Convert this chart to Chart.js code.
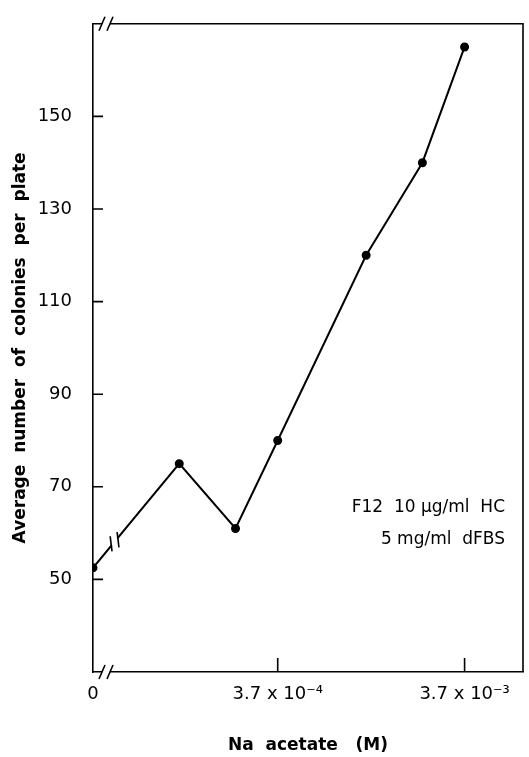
<!DOCTYPE html>
<html>
<head>
<meta charset="utf-8">
<script src="https://cdn.jsdelivr.net/npm/chart.js@4.4.0/dist/chart.umd.min.js"></script>
<style>
  html, body { margin: 0; padding: 0; background: #fff; }
  #wrap { width: 529px; height: 757px; }
</style>
</head>
<body>
<div id="wrap"><canvas id="colonyChart"></canvas></div>
<script>
// Na acetate (M); the 0 control sits left of the axis break
const concentrations = [0, 1.1e-4, 2.2e-4, 3.7e-4, 1.1e-3, 2.2e-3, 3.7e-3];
const colonies = [52.5, 75, 61, 80, 120, 140, 165];
const xTickValues = [0, 3.7e-4, 3.7e-3];
const xTickLabels = ['0', '3.7 x 10⁻⁴', '3.7 x 10⁻³'];
const yTickValues = [50, 70, 90, 110, 130, 150];
const noteLines = ['F12  10 µg/ml  HC', '5 mg/ml  dFBS'];

// position of "0" on the log axis (left end of the broken axis)
const ZERO_POS = 3.8e-5;
const FONT = 'DejaVu Sans';

const ctx = document.getElementById('colonyChart').getContext('2d');

// slash pair "//" used for axis and line breaks
function drawBreak(c, x, y, angle) {
  c.save();
  c.translate(x, y);
  c.rotate(angle);
  c.fillStyle = '#fff';
  c.fillRect(-4, -6, 8, 12);
  c.strokeStyle = '#000';
  c.lineWidth = 1.6;
  [-4, 4].forEach(dx => {
    c.beginPath();
    c.moveTo(dx - 3, 7);
    c.lineTo(dx + 3, -7);
    c.stroke();
  });
  c.restore();
}

const framePlugin = {
  id: 'frame',
  afterDraw(chart) {
    const c = chart.ctx;
    const a = chart.chartArea;
    const xs = chart.scales.x;
    const ys = chart.scales.y;
    c.save();
    c.strokeStyle = '#000';
    c.lineWidth = 1.6;
    // top and right frame
    c.beginPath();
    c.moveTo(a.left, a.top);
    c.lineTo(a.right, a.top);
    c.lineTo(a.right, a.bottom);
    c.stroke();
    // inward ticks
    c.beginPath();
    yTickValues.forEach(v => {
      const py = ys.getPixelForValue(v);
      c.moveTo(a.left, py);
      c.lineTo(a.left + 10, py);
    });
    xTickValues.slice(1).forEach(v => {
      const px = xs.getPixelForValue(v);
      c.moveTo(px, a.bottom);
      c.lineTo(px, a.bottom - 14);
    });
    c.stroke();
    // axis breaks near the zero
    drawBreak(c, a.left + 13, a.top, 0);
    drawBreak(c, a.left + 13, a.bottom, 0);
    // break on the line between control and first dose
    const meta = chart.getDatasetMeta(0).data;
    const p0 = meta[0], p1 = meta[1];
    const t = 0.25;
    const bx = p0.x + (p1.x - p0.x) * t;
    const by = p0.y + (p1.y - p0.y) * t;
    drawBreak(c, bx, by, Math.atan2(p1.y - p0.y, p1.x - p0.x) + 0.35);
    // condition note
    c.fillStyle = '#000';
    c.font = '17px "' + FONT + '"';
    c.textAlign = 'right';
    c.textBaseline = 'middle';
    c.fillText(noteLines[0], a.right - 18, ys.getPixelForValue(65.5));
    c.fillText(noteLines[1], a.right - 18, ys.getPixelForValue(58.5));
    c.restore();
  }
};

new Chart(ctx, {
  type: 'line',
  data: {
    datasets: [{
      data: concentrations.map((c, i) => ({ x: c === 0 ? ZERO_POS : c, y: colonies[i] })),
      borderColor: '#000',
      borderWidth: 2,
      pointRadius: 3.5,
      pointBackgroundColor: '#000',
      pointBorderColor: '#000',
      tension: 0
    }]
  },
  options: {
    responsive: true,
    maintainAspectRatio: false,
    animation: false,
    layout: { padding: { top: 13, right: 3, left: 0, bottom: 0 } },
    plugins: {
      legend: { display: false },
      tooltip: { enabled: false }
    },
    scales: {
      x: {
        type: 'logarithmic',
        min: ZERO_POS,
        max: 7.6e-3,
        afterBuildTicks: s => { s.ticks = xTickValues.map(v => ({ value: v === 0 ? ZERO_POS : v })); },
        afterFit: s => { s.height = 85; },
        grid: { display: false },
        border: { display: true, color: '#000', width: 1.6 },
        ticks: {
          callback: (v, i) => xTickLabels[i],
          autoSkip: false,
          maxRotation: 0,
          padding: 4,
          color: '#000',
          font: { family: FONT, size: 18 }
        },
        title: {
          display: true,
          text: 'Na  acetate   (M)',
          color: '#000',
          padding: { top: 0, bottom: 1 },
          font: { family: FONT, size: 17, weight: 'bold' }
        }
      },
      y: {
        min: 30,
        max: 170,
        afterBuildTicks: s => { s.ticks = yTickValues.map(v => ({ value: v })); },
        afterFit: s => { s.width = 93; },
        grid: { display: false },
        border: { display: true, color: '#000', width: 1.6 },
        ticks: {
          padding: 13,
          color: '#000',
          font: { family: FONT, size: 18 }
        },
        title: {
          display: true,
          text: 'Average  number  of  colonies  per  plate',
          color: '#000',
          padding: { top: 10, bottom: 0 },
          font: { family: FONT, size: 17, weight: 'bold' }
        }
      }
    }
  },
  plugins: [framePlugin]
});
</script>
</body>
</html>
